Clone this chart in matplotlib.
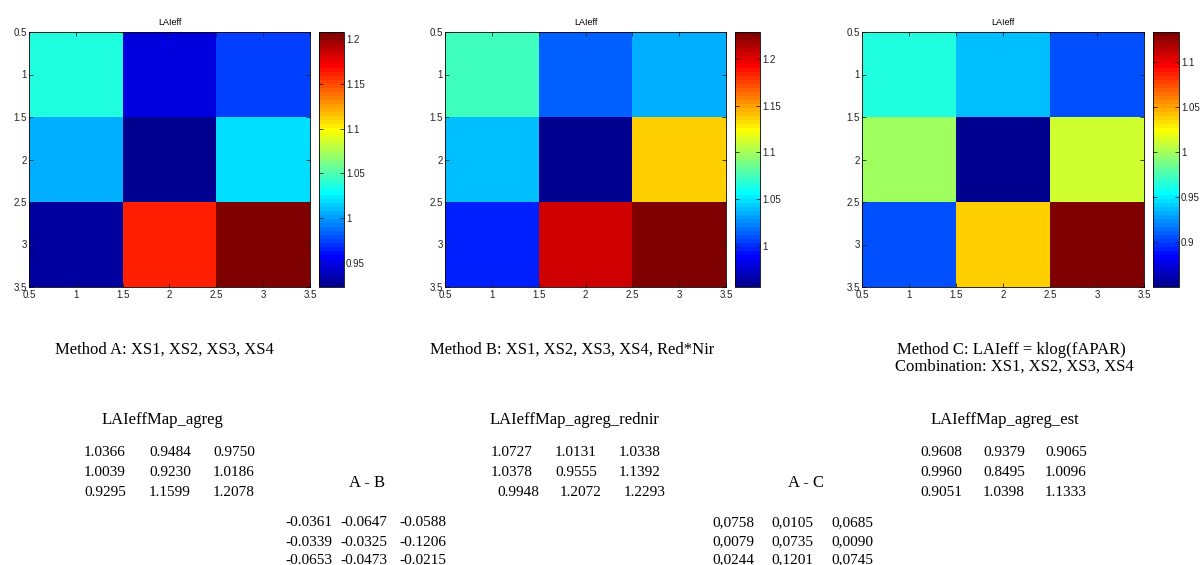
import numpy as np
import matplotlib
matplotlib.use('Agg')
import matplotlib.pyplot as plt
from matplotlib.colors import ListedColormap
from matplotlib.ticker import FormatStrFormatter

# LAIeff maps for the three methods (3x3 aggregated)
map_a = np.array([[1.0366, 0.9484, 0.9750],
                  [1.0039, 0.9230, 1.0186],
                  [0.9295, 1.1599, 1.2078]])
map_b = np.array([[1.0727, 1.0131, 1.0338],
                  [1.0378, 0.9555, 1.1392],
                  [0.9948, 1.2072, 1.2293]])
map_c = np.array([[0.9608, 0.9379, 0.9065],
                  [0.9960, 0.8495, 1.0096],
                  [0.9051, 1.0398, 1.1333]])

# differences as printed under the maps
diff_ab = np.array([[-0.0361, -0.0647, -0.0588],
                    [-0.0339, -0.0325, -0.1206],
                    [-0.0653, -0.0473, -0.0215]])
diff_ac = np.array([[0.0758, 0.0105, 0.0685],
                    [0.0079, 0.0735, 0.0090],
                    [0.0244, 0.1201, 0.0745]])

map_titles = ['LAIeffMap_agreg', 'LAIeffMap_agreg_rednir', 'LAIeffMap_agreg_est']
method_labels = ['Method A: XS1, XS2, XS3, XS4',
                 'Method B: XS1, XS2, XS3, XS4, Red*Nir',
                 'Method C: LAIeff = klog(fAPAR)',
                 'Combination: XS1, XS2, XS3, XS4']


def matlab_jet(n=64):
    # same construction as MATLAB's jet.m
    m = int(np.ceil(n / 4))
    u = np.concatenate([np.arange(1, m + 1) / m, np.ones(m - 1), np.arange(m, 0, -1) / m])
    g = int(np.ceil(m / 2)) - (n % 4 == 1) + np.arange(1, len(u) + 1)
    r = g + m
    b = g - m
    g = g[g <= n]
    r = r[r <= n]
    b = b[b >= 1]
    J = np.zeros((n, 3))
    J[r - 1, 0] = u[:len(r)]
    J[g - 1, 1] = u[:len(g)]
    J[b - 1, 2] = u[len(u) - len(b):]
    return ListedColormap(J)


W, H = 1200, 565
fig = plt.figure(figsize=(W / 100, H / 100), dpi=100)
cmap = matlab_jet(64)
sans = 'Liberation Sans'
serif = 'Liberation Serif'

# pixel boxes: (axes left, axes right, colorbar left, colorbar right)
boxes = [(29, 310, 319, 344), (445, 726, 735, 760), (862, 1144, 1153, 1179)]
top, bot = 32, 287

def px(x0, x1, y0, y1):
    return [x0 / W, 1 - y1 / H, (x1 - x0) / W, (y1 - y0) / H]

for data, (l, r, cl, cr) in zip([map_a, map_b, map_c], boxes):
    ax = fig.add_axes(px(l, r, top, bot))
    vmin, vmax = data.min(), data.max()
    im = ax.imshow(data, cmap=cmap, extent=(0.5, 3.5, 3.5, 0.5), aspect='auto',
                   interpolation='nearest', vmin=vmin, vmax=vmax)
    ticks = np.arange(0.5, 3.51, 0.5)
    ax.set_xticks(ticks)
    ax.set_yticks(ticks)
    ax.xaxis.set_major_formatter(FormatStrFormatter('%g'))
    ax.yaxis.set_major_formatter(FormatStrFormatter('%g'))
    ax.tick_params(direction='in', top=True, right=True, length=3, width=0.6,
                   labelsize=7, colors='#222222')
    ax.tick_params(axis='x', pad=2.5)
    ax.tick_params(axis='y', pad=1.5)
    for lab in ax.get_xticklabels() + ax.get_yticklabels():
        lab.set_fontfamily(sans)
    for s in ax.spines.values():
        s.set_linewidth(0.6)
    ax.set_title('LAIeff', fontsize=6.5, fontfamily=sans, pad=5)

    cax = fig.add_axes(px(cl, cr, top, bot))
    cb = fig.colorbar(im, cax=cax)
    span = vmax - vmin
    cticks = [t for t in np.arange(0.8, 1.3, 0.05) if vmin + 0.02 * span < t < vmax - 0.02 * span]
    cb.set_ticks(cticks)
    cb.formatter = FormatStrFormatter('%g')
    cb.update_ticks()
    cax.tick_params(direction='in', left=True, right=True, length=3, width=0.6,
                    labelsize=7, pad=1.5, colors='#222222')
    for lab in cax.get_yticklabels():
        lab.set_fontfamily(sans)
    cb.outline.set_linewidth(0.6)

def label(x, y, s, size=12):
    fig.text(x / W, 1 - y / H, s, ha='center', va='center', fontsize=size, fontfamily=serif)

# method captions
label(164, 350, method_labels[0])
label(572, 350, method_labels[1])
label(1011, 350, method_labels[2])
label(1014, 367, method_labels[3])

def matrix(values, cols, rows, comma=False, size=11):
    for i, y in enumerate(rows):
        for j, x in enumerate(cols[i]):
            s = '%.4f' % values[i, j]
            if comma:
                s = s.replace('.', ',')
            label(x, y, s, size)

map_rows = [453, 473, 492]
diff_rows = [523, 542, 560]

label(162, 420, map_titles[0])
label(574, 420, map_titles[1])
label(1005, 420, map_titles[2])

cols_a = [105, 170, 234]
cols_b = [512, 576, 640]
cols_c = [941, 1004, 1066]
matrix(map_a, [cols_a] * 3, map_rows)
matrix(map_b, [cols_b, cols_b, [518, 581, 645]], map_rows)
matrix(map_c, [cols_c] * 3, map_rows)

label(367, 483, 'A - B')
label(806, 483, 'A - C')
matrix(diff_ab, [[309, 364, 423]] * 3, diff_rows)
matrix(diff_ac, [[733, 792, 852]] * 3, diff_rows, comma=True)

fig.savefig('out.png', dpi=100, facecolor='white')
